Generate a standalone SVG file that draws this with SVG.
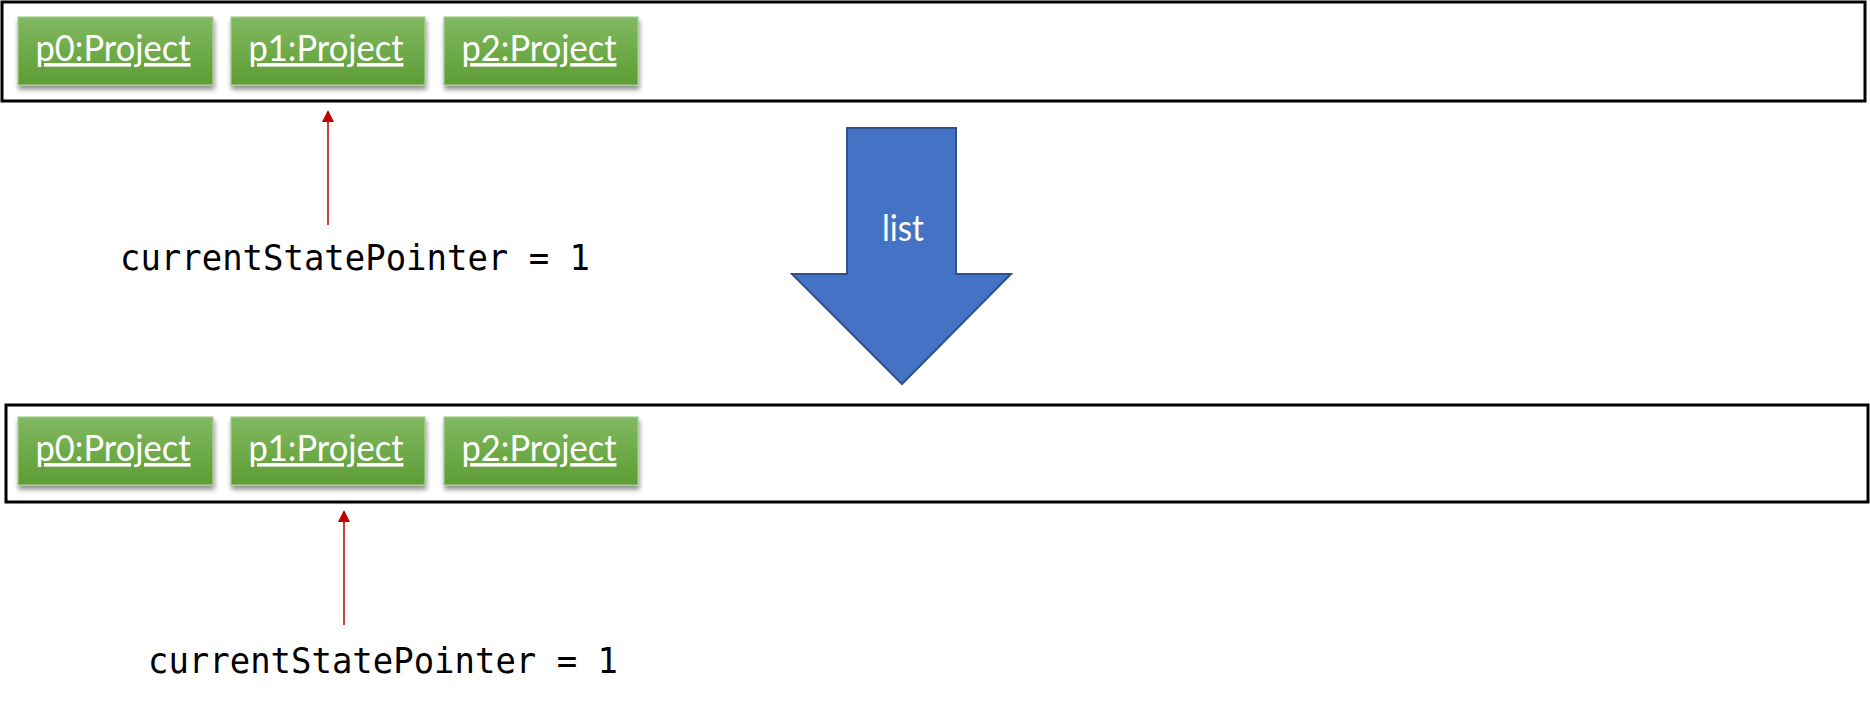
<svg xmlns="http://www.w3.org/2000/svg" width="1870" height="707" viewBox="0 0 1870 707">
  <defs>
    <linearGradient id="g" x1="0" y1="0" x2="0" y2="1">
      <stop offset="0" stop-color="#81b962"/>
      <stop offset="0.5" stop-color="#6fab4a"/>
      <stop offset="1" stop-color="#5e9c35"/>
    </linearGradient>
    <filter id="sh" x="-10%" y="-20%" width="125%" height="150%">
      <feGaussianBlur in="SourceAlpha" stdDeviation="2.5"/>
      <feOffset dx="1" dy="4" result="b"/>
      <feComponentTransfer><feFuncA type="linear" slope="0.45"/></feComponentTransfer>
      <feMerge><feMergeNode/><feMergeNode in="SourceGraphic"/></feMerge>
    </filter>
    <marker id="ah" viewBox="0 0 12 12" refX="0" refY="6" markerWidth="12" markerHeight="12" markerUnits="userSpaceOnUse" orient="auto">
      <path d="M0,0 L12,6 L0,12 Z" fill="#c00000"/>
    </marker>
  </defs>
  <style>
    .frame { fill: #ffffff; stroke: #000000; stroke-width: 3; }
    .node rect { fill: url(#g); stroke: #a6d08c; stroke-width: 1.2; filter: url(#sh); }
    .node text { font-family: Lato, "Open Sans", "Liberation Sans", sans-serif; font-size: 36px; fill: #ffffff; text-anchor: middle; text-decoration: underline; }
    .ptr { stroke: #c00000; stroke-width: 1.5; fill: none; }
    .label { font-family: "DejaVu Sans Mono", "Liberation Mono", monospace; font-size: 36px; fill: #000000; }
    .big { fill: #4472c4; stroke: #2f528f; stroke-width: 2; }
    .bigtext { font-family: Lato, "Open Sans", "Liberation Sans", sans-serif; font-size: 37px; fill: #ffffff; text-anchor: middle; }
  </style>
  <rect width="1870" height="707" fill="#ffffff"/>

  <g id="top-frame"><rect class="frame" x="2" y="2" width="1863" height="99"/></g>
  <g id="bottom-frame"><rect class="frame" x="6" y="405" width="1862" height="97"/></g>

  <g id="top-p0" class="node"><rect x="18" y="17" width="195" height="68"/><text x="113" y="61" textLength="155" lengthAdjust="spacingAndGlyphs">p0:Project</text></g>
  <g id="top-p1" class="node"><rect x="231" y="17" width="194" height="68"/><text x="326" y="61" textLength="155" lengthAdjust="spacingAndGlyphs">p1:Project</text></g>
  <g id="top-p2" class="node"><rect x="444" y="17" width="194" height="68"/><text x="539" y="61" textLength="155" lengthAdjust="spacingAndGlyphs">p2:Project</text></g>

  <g id="bottom-p0" class="node"><rect x="18" y="417" width="195" height="68"/><text x="113" y="461" textLength="155" lengthAdjust="spacingAndGlyphs">p0:Project</text></g>
  <g id="bottom-p1" class="node"><rect x="231" y="417" width="194" height="68"/><text x="326" y="461" textLength="155" lengthAdjust="spacingAndGlyphs">p1:Project</text></g>
  <g id="bottom-p2" class="node"><rect x="444" y="417" width="194" height="68"/><text x="539" y="461" textLength="155" lengthAdjust="spacingAndGlyphs">p2:Project</text></g>

  <g id="list-arrow">
    <polygon class="big" points="847,128 956,128 956,274 1011,274 902,384 792,274 847,274"/>
    <text class="bigtext" x="903" y="241" textLength="42" lengthAdjust="spacingAndGlyphs">list</text>
  </g>

  <g id="top-pointer-label"><text class="label" x="120" y="270" textLength="470" lengthAdjust="spacingAndGlyphs">currentStatePointer = 1</text></g>
  <g id="bottom-pointer-label"><text class="label" x="148" y="673" textLength="470" lengthAdjust="spacingAndGlyphs">currentStatePointer = 1</text></g>

  <g id="connectors">
    <line class="ptr" x1="328" y1="225" x2="328" y2="122" marker-end="url(#ah)"/>
    <line class="ptr" x1="344" y1="625" x2="344" y2="522" marker-end="url(#ah)"/>
  </g>
</svg>
